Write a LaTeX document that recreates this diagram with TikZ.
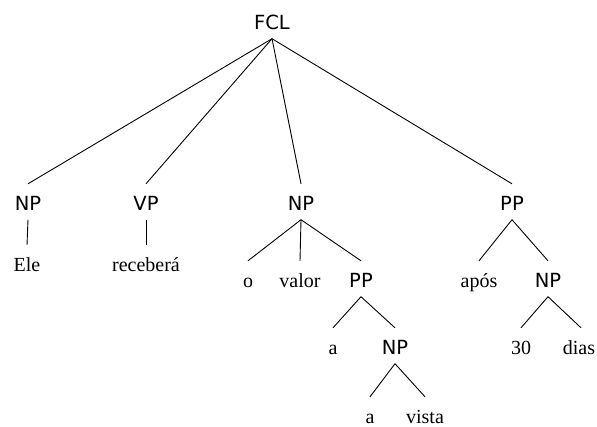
\documentclass[tikz,border=0pt]{standalone}
\usepackage{fontspec}
\setmainfont{Liberation Serif}
\newfontfamily\labfont{DejaVu Sans}
\begin{document}
\begin{tikzpicture}[x=1pt,y=-1pt,
  cat/.style={font=\labfont\fontsize{19.5}{19.5}\selectfont, anchor=base, inner sep=0pt, text height=26pt, text depth=9.5pt},
  word/.style={font=\fontsize{20}{20}\selectfont, anchor=base, inner sep=0pt, text height=26pt, text depth=9.5pt},
  branch/.style={draw, line width=0.9pt}]
\useasboundingbox (0,0) rectangle (597,426);
% categories
\node[cat] (fcl) at (272,29) {FCL};
\node[cat] (np1) at (28,210) {NP};
\node[cat] (vp) at (146,210) {VP};
\node[cat] (np2) at (301,210) {NP};
\node[cat] (pp1) at (512,210) {PP};
\node[cat] (pp2) at (361,287) {PP};
\node[cat] (np3) at (548,287) {NP};
\node[cat] (np4) at (395,354) {NP};
% words
\node[word] (ele) at (27,271) {Ele};
\node[word] (rec) at (146,271) {receberá};
\node[word] (o) at (248,287) {o};
\node[word] (valor) at (300,287) {valor};
\node[word] (apos) at (479,287) {após};
\node[word] (a1) at (333,354) {a};
\node[word] (n30) at (521,354) {30};
\node[word] (dias) at (579,354) {dias};
\node[word] (a2) at (370,423) {a};
\node[word] (vista) at (425,423) {vista};
% branches
\path[branch] (fcl.south) -- (np1.north);
\path[branch] (fcl.south) -- (vp.north);
\path[branch] (fcl.south) -- (np2.north);
\path[branch] (fcl.south) -- (pp1.north);
\path[branch] (np1.south) -- (ele.north);
\path[branch] (vp.south) -- (rec.north);
\path[branch] (np2.south) -- (o.north);
\path[branch] (np2.south) -- (valor.north);
\path[branch] (np2.south) -- (pp2.north);
\path[branch] (pp1.south) -- (apos.north);
\path[branch] (pp1.south) -- (np3.north);
\path[branch] (pp2.south) -- (a1.north);
\path[branch] (pp2.south) -- (np4.north);
\path[branch] (np3.south) -- (n30.north);
\path[branch] (np3.south) -- ([xshift=2pt]dias.north);
\path[branch] (np4.south) -- (a2.north);
\path[branch] (np4.south) -- (vista.north);
\end{tikzpicture}
\end{document}
